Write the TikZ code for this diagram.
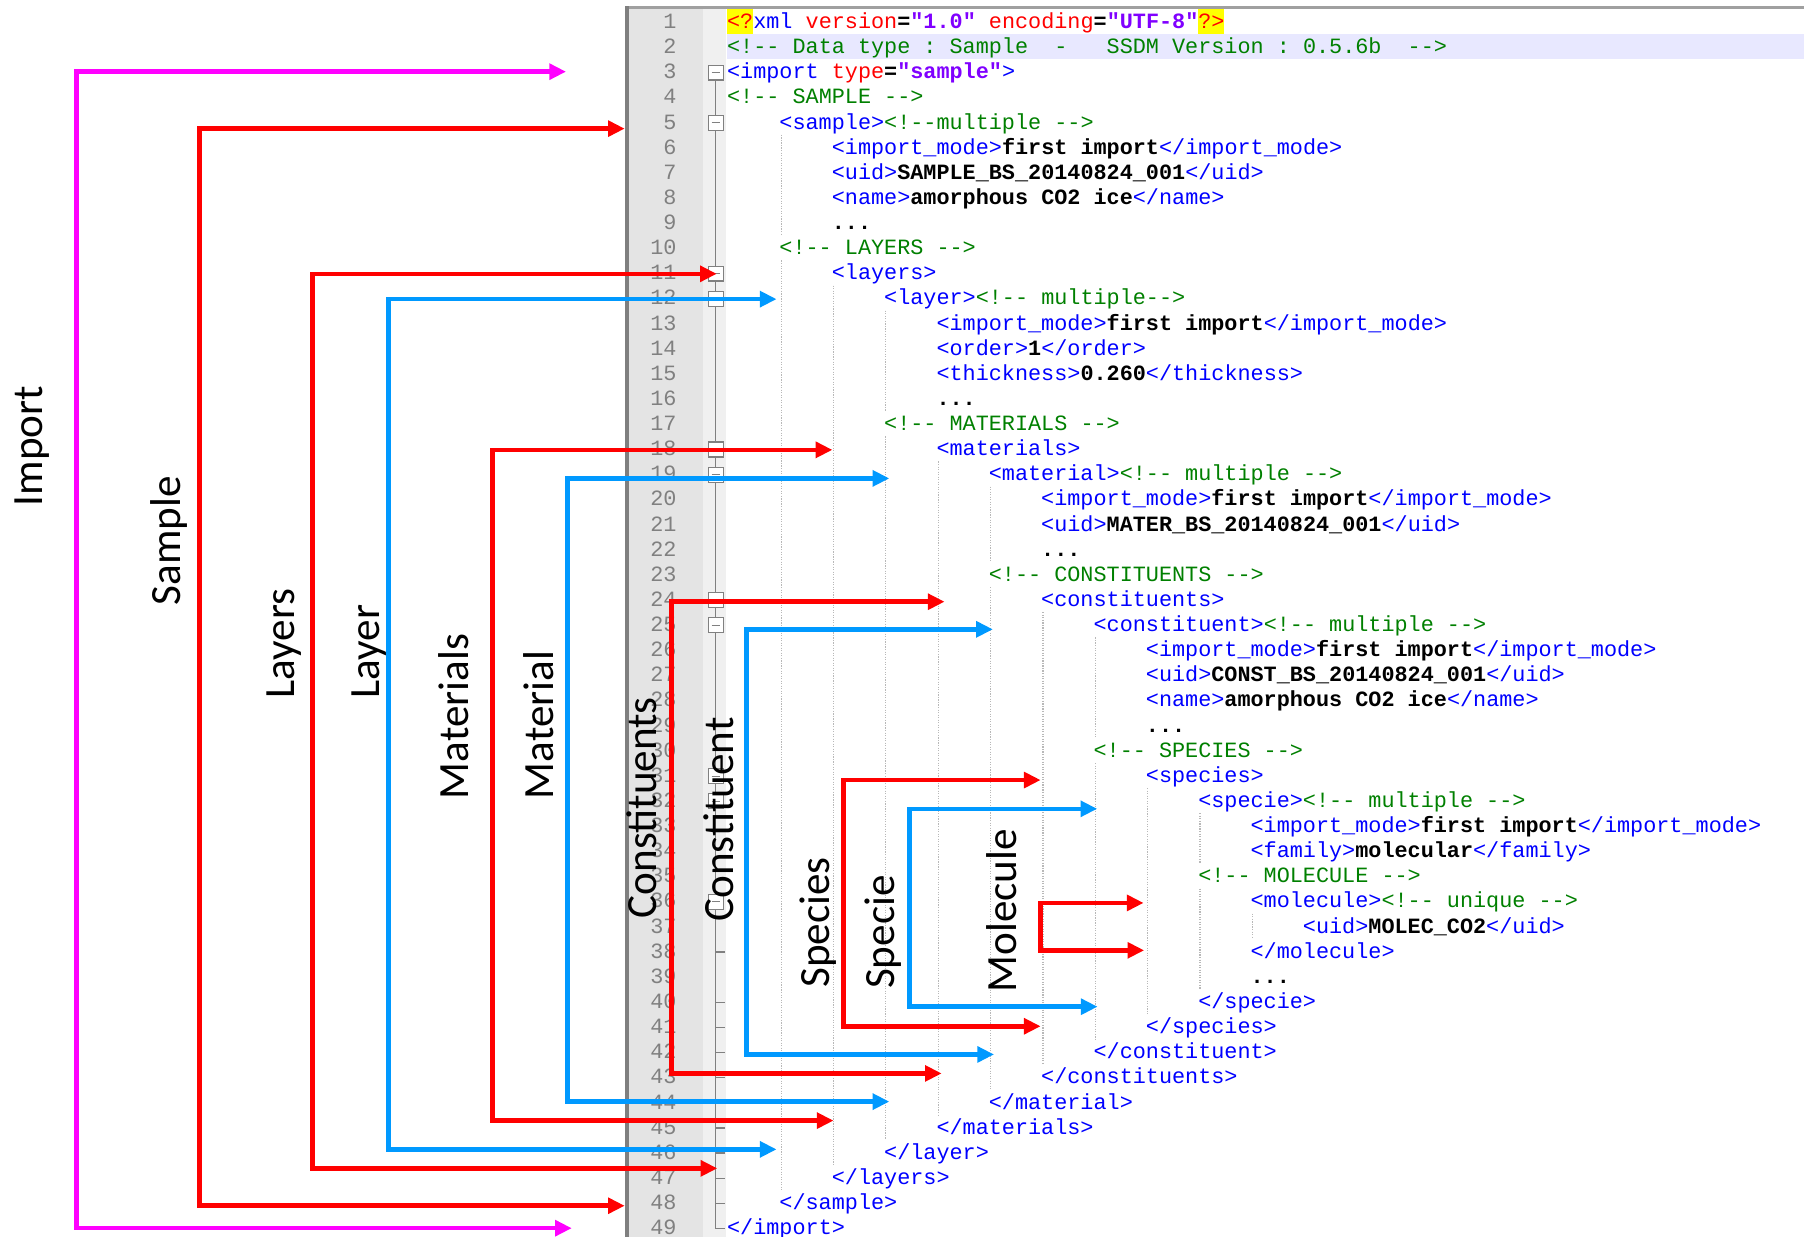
\documentclass[tikz,border=0pt]{standalone}
\usepackage{fontspec}
\setmainfont{Carlito}
\setmonofont{Liberation Mono}
\usetikzlibrary{arrows.meta}
\definecolor{xtag}{HTML}{0000FF}
\definecolor{xatt}{HTML}{FF0000}
\definecolor{xval}{HTML}{8000FF}
\definecolor{xcom}{HTML}{008000}
\definecolor{lnbg}{HTML}{E4E4E4}
\definecolor{lnfg}{HTML}{808080}
\definecolor{fmbg}{HTML}{F0F0F0}
\definecolor{hlbg}{HTML}{E8E8FF}
\definecolor{xyel}{HTML}{FFFF00}
\definecolor{guidec}{HTML}{B8B8B8}
\definecolor{amag}{HTML}{FF00FF}
\definecolor{ared}{HTML}{FF0000}
\definecolor{ablue}{HTML}{0099FF}
\definecolor{edborder}{HTML}{7F7F7F}
\definecolor{edtop}{HTML}{A0A0A0}
\newcommand\xmlT[1]{\textcolor{xtag}{#1}}
\newcommand\xmlA[1]{\textcolor{xatt}{#1}}
\newcommand\xmlV[1]{\textcolor{xval}{\bfseries #1}}
\newcommand\xmlC[1]{\textcolor{xcom}{#1}}
\newcommand\xmlD[1]{{\bfseries #1}}
\newcommand\xmlX[1]{\textcolor{xatt}{#1}}
\tikzset{
  codetext/.style={anchor=base west, inner sep=0pt, outer sep=0pt, font=\ttfamily\fontsize{18.96}{21.84}\selectfont},
  lnum/.style={anchor=base east, inner sep=0pt, outer sep=0pt, text=lnfg, font=\ttfamily\fontsize{18.96}{21.84}\selectfont},
  lbl/.style={anchor=base west, inner sep=0pt, outer sep=0pt, rotate=90, font=\fontsize{37.5}{40}\selectfont},
  brk/.style={line width=4pt, line join=miter, {Triangle[length=14.5pt,width=13.5pt]}-{Triangle[length=14.5pt,width=13.5pt]}},
  guide/.style={draw=guidec, line width=1pt, dash pattern=on 1pt off 1.2pt},
  foldbox/.style={draw=lnfg, fill=white, line width=1pt, minimum size=13pt, inner sep=0pt, outer sep=0pt},
  foldln/.style={draw=lnfg, line width=1pt},
}
\newcommand\codeln[3]{\node[codetext] (c#1) at ({632+45.5*#2},{24.8+21.84*(#1-1)}) {#3};}
\newcommand\guideln[3]{\draw[guide] ({633.5+45.5*#1},{19.4+21.84*(#2-1)-11.4}) -- ({633.5+45.5*#1},{19.4+21.84*(#3-1)+10.4});}
\newcommand\foldmark[1]{\node[foldbox] (f#1) at (622,{19.4+21.84*(#1-1)}) {};
  \draw[foldln] ([xshift=-3.5pt]f#1.center) -- ([xshift=3.5pt]f#1.center);}
\newcommand\foldtick[1]{\coordinate (t#1a) at (622,{19.4+21.84*(#1-1)}); \coordinate (t#1b) at (630,{19.4+21.84*(#1-1)});
  \draw[foldln] (t#1a) -- (t#1b);}
\newcommand\bracket[7]{%
  \coordinate (#1-t) at (#5,#4);
  \coordinate (#1-v) at (#3,#4);
  \coordinate (#1-w) at (#3,#6);
  \coordinate (#1-b) at (#7,#6);
  \draw[brk,#2] (#1-t) -- (#1-v) -- (#1-w) -- (#1-b);}
\begin{document}
\begin{tikzpicture}[x=1pt,y=-1pt]
\useasboundingbox (0,0) rectangle (1568,1075);
\fill[white] (0,0) rectangle (1568,1075);
% editor panel
\fill[lnbg] (546,7) rectangle (611,1075);
\fill[fmbg] (611,7) rectangle (631,1075);
\fill[hlbg] (632,{19.4+21.84-0.5-10.92}) rectangle (1568,{19.4+21.84-0.5+10.92});
\fill[xyel] (632,8.1) rectangle (654.75,29.8);
\fill[xyel] (1041.5,8.1) rectangle (1064.25,29.8);
\draw[edtop, line width=2pt] (544,6.5) -- (1568,6.5);
\draw[edborder, line width=3pt] (545,5.5) -- (545,1075);
% indent guides
\guideln{1}{6}{9}\guideln{1}{11}{47}
\guideln{2}{12}{46}
\guideln{3}{13}{16}\guideln{3}{18}{45}
\guideln{4}{19}{44}
\guideln{5}{20}{22}\guideln{5}{24}{43}
\guideln{6}{25}{42}
\guideln{7}{26}{29}\guideln{7}{31}{41}
\guideln{8}{32}{40}
\guideln{9}{33}{34}\guideln{9}{36}{39}
\guideln{10}{37}{37}
% code
\codeln{1}{0}{\xmlX{<?}\xmlT{xml}~\xmlA{version}\xmlD{=}\xmlV{"1.0"}~\xmlA{encoding}\xmlD{=}\xmlV{"UTF-8"}\xmlX{?>}}
\codeln{2}{0}{\xmlC{<!--~Data~type~:~Sample~~-~~~SSDM~Version~:~0.5.6b~~-->}}
\codeln{3}{0}{\xmlT{<import}~\xmlA{type}\xmlD{=}\xmlV{"sample"}\xmlT{>}}
\codeln{4}{0}{\xmlC{<!--~SAMPLE~-->}}
\codeln{5}{1}{\xmlT{<sample>}\xmlC{<!--multiple~-->}}
\codeln{6}{2}{\xmlT{<import\_mode>}\xmlD{first~import}\xmlT{</import\_mode>}}
\codeln{7}{2}{\xmlT{<uid>}\xmlD{SAMPLE\_BS\_20140824\_001}\xmlT{</uid>}}
\codeln{8}{2}{\xmlT{<name>}\xmlD{amorphous~CO2~ice}\xmlT{</name>}}
\codeln{9}{2}{\xmlD{...}}
\codeln{10}{1}{\xmlC{<!--~LAYERS~-->}}
\codeln{11}{2}{\xmlT{<layers>}}
\codeln{12}{3}{\xmlT{<layer>}\xmlC{<!--~multiple-->}}
\codeln{13}{4}{\xmlT{<import\_mode>}\xmlD{first~import}\xmlT{</import\_mode>}}
\codeln{14}{4}{\xmlT{<order>}\xmlD{1}\xmlT{</order>}}
\codeln{15}{4}{\xmlT{<thickness>}\xmlD{0.260}\xmlT{</thickness>}}
\codeln{16}{4}{\xmlD{...}}
\codeln{17}{3}{\xmlC{<!--~MATERIALS~-->}}
\codeln{18}{4}{\xmlT{<materials>}}
\codeln{19}{5}{\xmlT{<material>}\xmlC{<!--~multiple~-->}}
\codeln{20}{6}{\xmlT{<import\_mode>}\xmlD{first~import}\xmlT{</import\_mode>}}
\codeln{21}{6}{\xmlT{<uid>}\xmlD{MATER\_BS\_20140824\_001}\xmlT{</uid>}}
\codeln{22}{6}{\xmlD{...}}
\codeln{23}{5}{\xmlC{<!--~CONSTITUENTS~-->}}
\codeln{24}{6}{\xmlT{<constituents>}}
\codeln{25}{7}{\xmlT{<constituent>}\xmlC{<!--~multiple~-->}}
\codeln{26}{8}{\xmlT{<import\_mode>}\xmlD{first~import}\xmlT{</import\_mode>}}
\codeln{27}{8}{\xmlT{<uid>}\xmlD{CONST\_BS\_20140824\_001}\xmlT{</uid>}}
\codeln{28}{8}{\xmlT{<name>}\xmlD{amorphous~CO2~ice}\xmlT{</name>}}
\codeln{29}{8}{\xmlD{...}}
\codeln{30}{7}{\xmlC{<!--~SPECIES~-->}}
\codeln{31}{8}{\xmlT{<species>}}
\codeln{32}{9}{\xmlT{<specie>}\xmlC{<!--~multiple~-->}}
\codeln{33}{10}{\xmlT{<import\_mode>}\xmlD{first~import}\xmlT{</import\_mode>}}
\codeln{34}{10}{\xmlT{<family>}\xmlD{molecular}\xmlT{</family>}}
\codeln{35}{9}{\xmlC{<!--~MOLECULE~-->}}
\codeln{36}{10}{\xmlT{<molecule>}\xmlC{<!--~unique~-->}}
\codeln{37}{11}{\xmlT{<uid>}\xmlD{MOLEC\_CO2}\xmlT{</uid>}}
\codeln{38}{10}{\xmlT{</molecule>}}
\codeln{39}{10}{\xmlD{...}}
\codeln{40}{9}{\xmlT{</specie>}}
\codeln{41}{8}{\xmlT{</species>}}
\codeln{42}{7}{\xmlT{</constituent>}}
\codeln{43}{6}{\xmlT{</constituents>}}
\codeln{44}{5}{\xmlT{</material>}}
\codeln{45}{4}{\xmlT{</materials>}}
\codeln{46}{3}{\xmlT{</layer>}}
\codeln{47}{2}{\xmlT{</layers>}}
\codeln{48}{1}{\xmlT{</sample>}}
\codeln{49}{0}{\xmlT{</import>}}
% line numbers
\foreach \n in {1,...,49} {\node[lnum] (n\n) at (588,{24.8+21.84*(\n-1)}) {\n};}
% fold margin
\coordinate (fold-top) at (622,{19.4+21.84*2});
\coordinate (fold-bot) at (622,{19.4+21.84*48});
\coordinate (fold-end) at (630,{19.4+21.84*48});
\draw[foldln] (fold-top) -- (fold-bot) -- (fold-end);
\foreach \m in {38,40,41,42,43,44,45,46,47,48} {\foldtick{\m}}
\foreach \m in {3,5,11,12,18,19,24,25,31,32,36} {\foldmark{\m}}
% brackets
\bracket{imp}{amag}{66.5}{62.3}{492}{1067.5}{497}
\bracket{smp}{ared}{173.5}{111.8}{543}{1048}{543}
\bracket{lys}{ared}{271.5}{238}{623}{1015.5}{623.5}
\bracket{lyr}{ablue}{337.5}{260}{675}{999}{675}
\bracket{mts}{ared}{428}{391}{723.5}{974}{724.5}
\bracket{mtl}{ablue}{493.5}{415.8}{773}{957.5}{773}
\bracket{cns}{ared}{583.5}{523}{821}{933}{818.5}
\bracket{cnt}{ablue}{649}{547}{863}{916.5}{864}
\bracket{sps}{ared}{733}{678}{904.5}{892}{904.5}
\bracket{spc}{ablue}{790.5}{703}{953.7}{875}{954}
\bracket{mol}{ared}{904.6}{784.8}{994}{826}{994.5}
% labels
\node[lbl] (lImport) at (37.3,440) {Import};
\node[lbl] (lSample) at (156.5,526) {Sample};
\node[lbl] (lLayers) at (255.7,607) {Layers};
\node[lbl] (lLayer) at (329.7,607) {Layer};
\node[lbl] (lMaterials) at (407,694.5) {Materials};
\node[lbl] (lMaterial) at (481.2,694.5) {Material};
\node[lbl] (lConstituents) at (570.7,798) {Constituents};
\node[lbl] (lConstituent) at (637.4,801) {Constituent};
\node[lbl] (lSpecies) at (721.4,858.5) {Species};
\node[lbl] (lSpecie) at (777.9,859.5) {Specie};
\node[lbl] (lMolecule) at (883.7,862.5) {Molecule};
\end{tikzpicture}
\end{document}
